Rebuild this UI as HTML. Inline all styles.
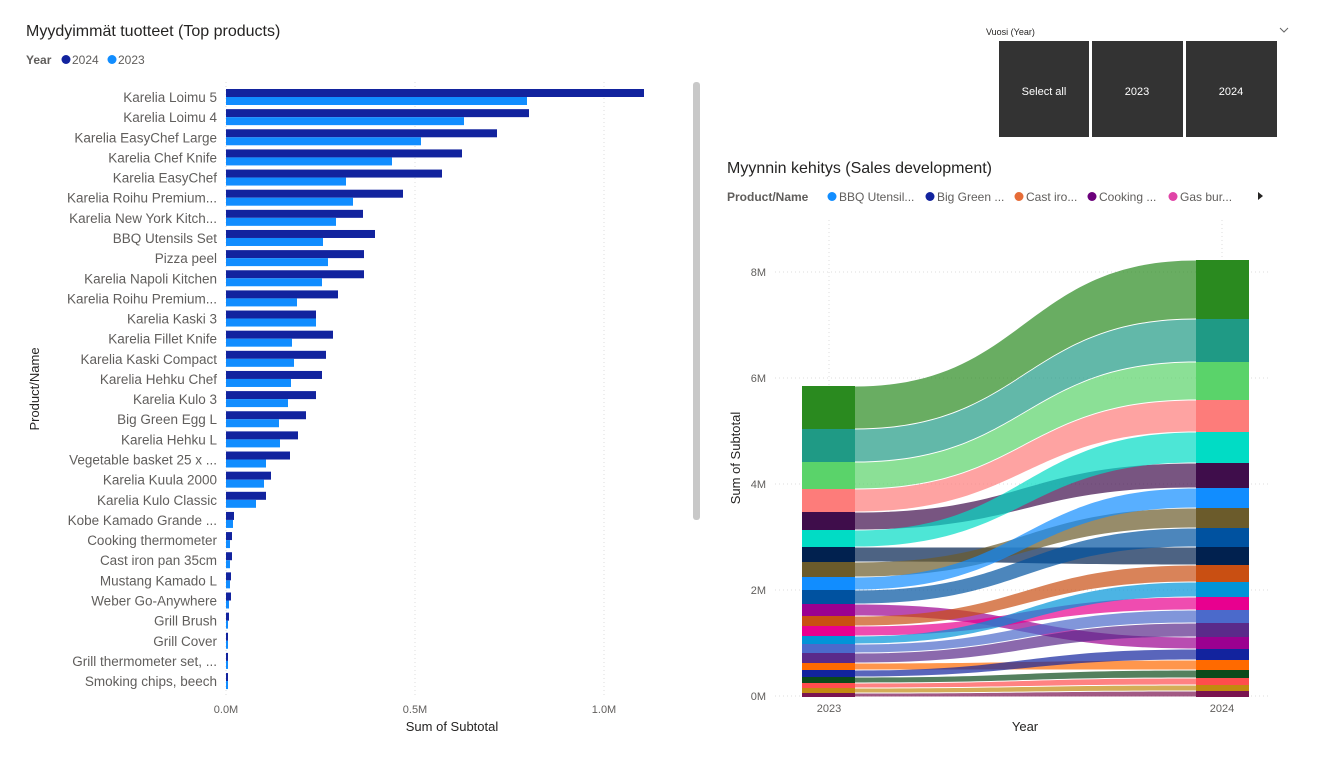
<!DOCTYPE html>
<html><head><meta charset="utf-8">
<style>
body{margin:0;width:1324px;height:763px;background:#fff;overflow:hidden;font-family:"Liberation Sans","DejaVu Sans",sans-serif;}
svg{position:absolute;left:0;top:0}
</style></head><body>
<svg id="s" width="1324" height="763" xmlns="http://www.w3.org/2000/svg" font-family="Liberation Sans, DejaVu Sans, sans-serif">
<text x="26" y="36" font-size="16" fill="#252423">Myydyimmät tuotteet (Top products)</text>
<text x="26" y="64" font-size="12" font-weight="bold" fill="#605e5c">Year</text>
<circle cx="66" cy="59.5" r="4.5" fill="#12239e"/><text x="72" y="64" font-size="12" fill="#605e5c">2024</text>
<circle cx="112" cy="59.5" r="4.5" fill="#118dff"/><text x="118" y="64" font-size="12" fill="#605e5c">2023</text>
<g stroke="#ddd" stroke-dasharray="1,3"><line x1="226" y1="82" x2="226" y2="695"/><line x1="415" y1="82" x2="415" y2="695"/><line x1="604" y1="82" x2="604" y2="695"/></g>
<g id="bars"></g>
<rect x="693" y="82" width="7" height="438" rx="3" fill="#c8c8c8"/>
<text x="226" y="713" font-size="11" fill="#605e5c" text-anchor="middle">0.0M</text>
<text x="415" y="713" font-size="11" fill="#605e5c" text-anchor="middle">0.5M</text>
<text x="604" y="713" font-size="11" fill="#605e5c" text-anchor="middle">1.0M</text>
<text x="452" y="731" font-size="13" fill="#252423" text-anchor="middle">Sum of Subtotal</text>
<text transform="translate(39,389) rotate(-90)" font-size="13" fill="#252423" text-anchor="middle">Product/Name</text>

<text x="986" y="35" font-size="9" fill="#252423">Vuosi (Year)</text>
<path d="M1280,28 l4,4 l4,-4" fill="none" stroke="#666" stroke-width="1"/>
<rect x="999" y="41" width="90" height="96" fill="#333"/>
<rect x="1092" y="41" width="91" height="96" fill="#333"/>
<rect x="1186" y="41" width="91" height="96" fill="#333"/>
<text x="1044" y="95" font-size="11" fill="#fff" text-anchor="middle">Select all</text>
<text x="1137" y="95" font-size="11" fill="#fff" text-anchor="middle">2023</text>
<text x="1231" y="95" font-size="11" fill="#fff" text-anchor="middle">2024</text>

<text x="727" y="173" font-size="16" fill="#252423">Myynnin kehitys (Sales development)</text>
<text x="727" y="201" font-size="12" font-weight="bold" fill="#605e5c">Product/Name</text>
<circle cx="832" cy="196.5" r="4.5" fill="#118dff"/><text x="839" y="201" font-size="12" fill="#605e5c">BBQ Utensil...</text>
<circle cx="930" cy="196.5" r="4.5" fill="#12239e"/><text x="937" y="201" font-size="12" fill="#605e5c">Big Green ...</text>
<circle cx="1019" cy="196.5" r="4.5" fill="#e66c37"/><text x="1026" y="201" font-size="12" fill="#605e5c">Cast iro...</text>
<circle cx="1092" cy="196.5" r="4.5" fill="#6b007b"/><text x="1099" y="201" font-size="12" fill="#605e5c">Cooking ...</text>
<circle cx="1173" cy="196.5" r="4.5" fill="#e044a7"/><text x="1180" y="201" font-size="12" fill="#605e5c">Gas bur...</text>
<path d="M1258,192 l5,4 l-5,4z" fill="#252423"/>
<g stroke="#ddd" stroke-dasharray="1,3"><line x1="775" y1="272" x2="1270" y2="272"/><line x1="775" y1="378" x2="1270" y2="378"/><line x1="775" y1="484" x2="1270" y2="484"/><line x1="775" y1="590" x2="1270" y2="590"/><line x1="775" y1="696" x2="1270" y2="696"/><line x1="829" y1="220" x2="829" y2="696"/><line x1="1222" y1="220" x2="1222" y2="696"/></g>
<g font-size="11" fill="#605e5c" text-anchor="end"><text x="766" y="276">8M</text><text x="766" y="382">6M</text><text x="766" y="488">4M</text><text x="766" y="594">2M</text><text x="766" y="700">0M</text></g>
<text transform="translate(740,458) rotate(-90)" font-size="13" fill="#252423" text-anchor="middle">Sum of Subtotal</text>
<g id="rib"></g>
<text x="829" y="712" font-size="11" fill="#605e5c" text-anchor="middle">2023</text>
<text x="1222" y="712" font-size="11" fill="#605e5c" text-anchor="middle">2024</text>
<text x="1025" y="731" font-size="13" fill="#252423" text-anchor="middle">Year</text>
</svg>
<script>
var NS="http://www.w3.org/2000/svg";
function el(p,t,a,txt){var e=document.createElementNS(NS,t);for(var k in a)e.setAttribute(k,a[k]);if(txt)e.textContent=txt;p.appendChild(e);return e;}
var names=["Karelia Loimu 5","Karelia Loimu 4","Karelia EasyChef Large","Karelia Chef Knife","Karelia EasyChef","Karelia Roihu Premium...","Karelia New York Kitch...","BBQ Utensils Set","Pizza peel","Karelia Napoli Kitchen","Karelia Roihu Premium...","Karelia Kaski 3","Karelia Fillet Knife","Karelia Kaski Compact","Karelia Hehku Chef","Karelia Kulo 3","Big Green Egg L","Karelia Hehku L","Vegetable basket 25 x ...","Karelia Kuula 2000","Karelia Kulo Classic","Kobe Kamado Grande ...","Cooking thermometer","Cast iron pan 35cm","Mustang Kamado L","Weber Go-Anywhere","Grill Brush","Grill Cover","Grill thermometer set, ...","Smoking chips, beech"];
var a=[644,529,497,462,442,403,363,375,364,364,338,316,333,326,322,316,306,298,290,271,266,234,232,232,231,231,229,228,228,228];
var b=[527,464,421,392,346,353,336,323,328,322,297,316,292,294,291,288,279,280,266,264,256,233,230,230,230,229,228,228,228,228];
var g=document.getElementById("bars");
for(var i=0;i<30;i++){var y=97+i*20.14;
el(g,"rect",{x:226,y:y-8,width:a[i]-226,height:8,fill:"#12239e"});
el(g,"rect",{x:226,y:y,width:b[i]-226,height:8,fill:"#118dff"});
el(g,"text",{x:217,y:y+5,"font-size":"13.5",fill:"#605e5c","text-anchor":"end"},names[i]);}
var cols={G:"#2a8a1f",T:"#1f9a85",L:"#5ad36a",S:"#fd7c7a",P:"#3f0d4b",Q:"#01dcc5",N:"#01214f",O:"#6b5b2b",B:"#118dff",D:"#0052a0",M:"#9b0090",R:"#c94f12",K:"#e8008f",Y:"#0094d8",W:"#4b6acb",U:"#5a2a8a",X:"#ff6a00",E:"#12239e",F:"#0b4a1a",Z:"#ff4d4d",H:"#c28a10",I:"#7a1450"};
var o23="GTLSPQNOBDMRKYWUXEFZHI".split(""),y23=[386,429,462,489,512,530,547,562,577,590,604,616,626,636,644,653,663,670,677,683,688,693,697];
var o24="GTLSQPBODNRYKWUMEXFZHI".split(""),y24=[260,319,362,400,432,463,488,508,528,547,565,582,597,610,623,637,649,660,670,678,685,691,697];
var r=document.getElementById("rib");
function seg(o,ys,c){var i=o.indexOf(c);return [ys[i],ys[i+1]];}
o23.forEach(function(c){var p=seg(o23,y23,c),q=seg(o24,y24,c);
el(r,"path",{d:"M855,"+(p[0]+0.5)+" C1025,"+(p[0]+0.5)+" 1025,"+(q[0]+0.5)+" 1196,"+(q[0]+0.5)+" L1196,"+(q[1]-0.5)+" C1025,"+(q[1]-0.5)+" 1025,"+(p[1]-0.5)+" 855,"+(p[1]-0.5)+"Z",fill:cols[c],"fill-opacity":"0.7"});});
o23.forEach(function(c,i){el(r,"rect",{x:802,y:y23[i],width:53,height:y23[i+1]-y23[i],fill:cols[c]});});
o24.forEach(function(c,i){el(r,"rect",{x:1196,y:y24[i],width:53,height:y24[i+1]-y24[i],fill:cols[c]});});
</script>
</body></html>
